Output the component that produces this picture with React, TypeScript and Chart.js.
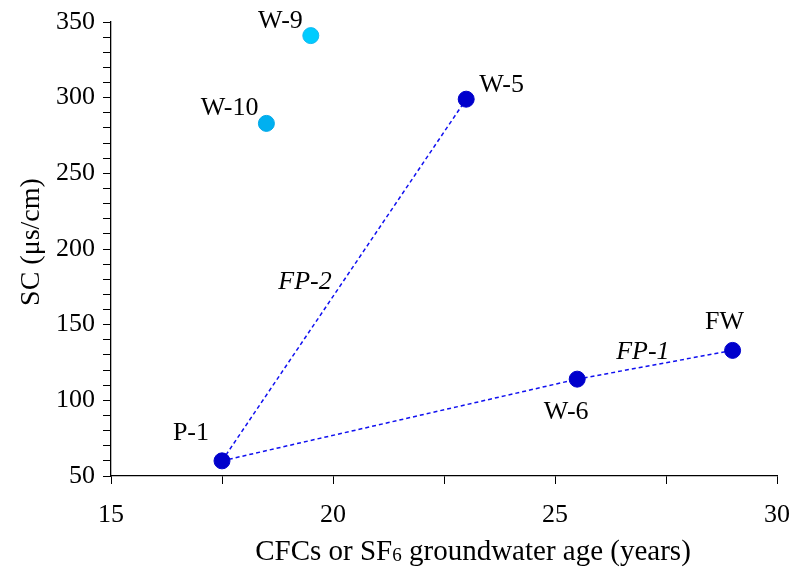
import React, { useEffect, useRef } from "react";
import { Chart, registerables } from "chart.js";

Chart.register(...registerables);

// Sample wells: groundwater age (years) and specific conductance (μs/cm)
const wellNames = ["P-1", "W-6", "FW", "W-5"];
const wellAges = [17.5, 25.5, 29, 23];
const wellSC = [60, 114, 133, 299];

const highNames = ["W-10", "W-9"];
const highAges = [18.5, 19.5];
const highSC = [283, 341];
const highColors = ["#00B0F0", "#00CCFF"];

// Flow paths (sequence of well names)
const flowPath1 = ["P-1", "W-6", "FW"];
const flowPath2 = ["P-1", "W-5"];

const xTicks = [15, 20, 25, 30];
const yTicks = [50, 100, 150, 200, 250, 300, 350];

const FONT = "'Liberation Serif', 'Times New Roman', serif";

const allNames = [...wellNames, ...highNames];
const allAges = [...wellAges, ...highAges];
const allSC = [...wellSC, ...highSC];

const pointFor = (n: string) => {
  const i = allNames.indexOf(n);
  return { x: allAges[i], y: allSC[i] };
};

// label offsets relative to the marker (pixels), alignment
const labelPlacement: Record<string, { dx: number; dy: number; align: CanvasTextAlign }> = {
  "P-1": { dx: -13, dy: -28, align: "right" },
  "W-6": { dx: -11, dy: 33, align: "center" },
  FW: { dx: -8, dy: -28, align: "center" },
  "W-5": { dx: 13, dy: -14, align: "left" },
  "W-10": { dx: -8, dy: -15, align: "right" },
  "W-9": { dx: -8, dy: -14, align: "right" },
};

const pathLabels = [
  { text: "FP-2", x: 19.37, y: 178 },
  { text: "FP-1", x: 26.98, y: 132 },
];

const annotate = {
  id: "annotate",
  afterDraw(chart: any) {
    const ctx = chart.ctx as CanvasRenderingContext2D;
    const xs = chart.scales.x;
    const ys = chart.scales.y;
    ctx.save();
    ctx.fillStyle = "#000";
    ctx.textBaseline = "middle";
    ctx.font = `26px ${FONT}`;
    allNames.forEach((n, i) => {
      const p = labelPlacement[n];
      const px = xs.getPixelForValue(allAges[i]);
      const py = ys.getPixelForValue(allSC[i]);
      ctx.textAlign = p.align;
      ctx.fillText(n, px + p.dx, py + p.dy);
    });
    ctx.font = `italic 26px ${FONT}`;
    ctx.textAlign = "center";
    pathLabels.forEach((l) => {
      ctx.fillText(l.text, xs.getPixelForValue(l.x), ys.getPixelForValue(l.y));
    });

    // axis titles
    const part1 = "CFCs or SF";
    const part2 = "6";
    const part3 = " groundwater age (years)";
    ctx.font = `29px ${FONT}`;
    const w1 = ctx.measureText(part1).width;
    const w3 = ctx.measureText(part3).width;
    ctx.font = `19px ${FONT}`;
    const w2 = ctx.measureText(part2).width;
    const total = w1 + w2 + w3;
    const cx = 473;
    const ty = 552;
    let sx = cx - total / 2;
    ctx.textAlign = "left";
    ctx.font = `29px ${FONT}`;
    ctx.fillText(part1, sx, ty);
    sx += w1;
    ctx.font = `19px ${FONT}`;
    ctx.fillText(part2, sx, ty + 4);
    sx += w2;
    ctx.font = `29px ${FONT}`;
    ctx.fillText(part3, sx, ty);

    ctx.font = `28px ${FONT}`;
    ctx.translate(32, 242);
    ctx.rotate(-Math.PI / 2);
    ctx.textAlign = "center";
    ctx.fillText("SC (μs/cm)", 0, 0);
    ctx.restore();
  },
};

export default function App() {
  const ref = useRef<HTMLCanvasElement>(null);

  useEffect(() => {
    document.body.style.margin = "0";
    const canvas = ref.current!;
    const chart = new Chart(canvas, {
      type: "scatter",
      data: {
        datasets: [
          {
            label: "FP-1",
            data: flowPath1.map(pointFor),
            showLine: true,
            borderColor: "#1010F0",
            borderWidth: 1.5,
            borderDash: [4, 3],
            pointRadius: 0,
            order: 3,
          },
          {
            label: "FP-2",
            data: flowPath2.map(pointFor),
            showLine: true,
            borderColor: "#1010F0",
            borderWidth: 1.5,
            borderDash: [4, 3],
            pointRadius: 0,
            order: 3,
          },
          {
            label: "wells",
            data: wellAges.map((x, i) => ({ x, y: wellSC[i] })),
            pointRadius: 8,
            pointBackgroundColor: "#0000CC",
            pointBorderColor: "#0000CC",
            pointBorderWidth: 1,
            order: 1,
          },
          {
            label: "high SC wells",
            data: highAges.map((x, i) => ({ x, y: highSC[i] })),
            pointRadius: 8,
            pointBackgroundColor: highColors,
            pointBorderColor: ["#00A8E8", "#18B8F0"],
            pointBorderWidth: 1,
            order: 1,
          },
        ],
      },
      options: {
        animation: false,
        responsive: false,
        layout: { padding: { top: 22, right: 15, left: 0, bottom: 0 } },
        plugins: {
          legend: { display: false },
          tooltip: { enabled: false },
        },
        scales: {
          x: {
            type: "linear",
            min: 15,
            max: 30,
            ticks: {
              stepSize: 2.5,
              autoSkip: false,
              maxRotation: 0,
              color: "#000",
              font: { family: FONT, size: 26 },
              padding: 16,
              callback: (v: any) => (xTicks.includes(Number(v)) ? String(v) : ""),
            },
            grid: {
              display: true,
              drawOnChartArea: false,
              drawTicks: true,
              tickLength: 8,
              color: "#000",
            },
            border: { display: true, color: "#000", width: 1.3 },
            afterFit: (s: any) => {
              s.height = 97;
              s.paddingLeft = 0;
              s.paddingRight = 0;
            },
          },
          y: {
            type: "linear",
            min: 50,
            max: 350,
            ticks: {
              stepSize: 10,
              autoSkip: false,
              color: "#000",
              font: { family: FONT, size: 26 },
              padding: 8,
              callback: (v: any) => (yTicks.includes(Number(v)) ? String(v) : ""),
            },
            grid: {
              display: true,
              drawOnChartArea: false,
              drawTicks: true,
              tickLength: 8,
              color: "#000",
            },
            border: { display: true, color: "#000", width: 1.3 },
            afterFit: (s: any) => {
              s.width = 111;
              s.paddingTop = 0;
              s.paddingBottom = 0;
            },
          },
        },
      },
      plugins: [annotate],
    });
    return () => chart.destroy();
  }, []);

  return (
    <div style={{ width: 792, height: 573 }}>
      <canvas ref={ref} width={792} height={573} style={{ display: "block" }} />
    </div>
  );
}
